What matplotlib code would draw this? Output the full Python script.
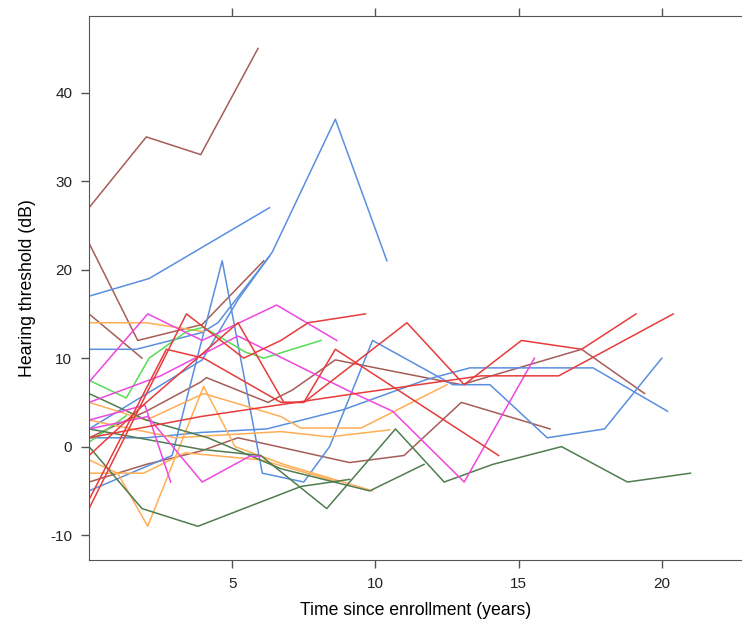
import matplotlib
matplotlib.use("Agg")
import matplotlib.pyplot as plt

plt.rcParams['font.family'] = ['Liberation Sans', 'DejaVu Sans']
plt.rcParams['axes.unicode_minus'] = False

# colours by group
brown = '#a65d58'
blue = '#5a8fe0'
red = '#e83b3b'
magenta = '#ee47e0'
green = '#55dd55'
darkgreen = '#4f7d4f'
orange = '#ffae55'

# (years, dB) per subject
b1_x = [0, 2, 3.9, 5.9];  b1_y = [27, 35, 33, 45]
b2_x = [0, 1.7, 3.95, 6.1];  b2_y = [23, 12, 13.8, 21]
b3_x = [0, 1.85];  b3_y = [15, 10]
b4_x = [0, 2, 3.9, 4.1, 6.25, 7.1, 8.6, 13.0, 17.2, 19.4]
b4_y = [1, 4, 7.3, 7.8, 5, 6.4, 9.8, 7, 11, 6]
b5_x = [0, 2, 3.9, 5.2, 9.1, 11, 13, 16.1]
b5_y = [-4, -2, -0.5, 1, -1.8, -1, 5, 2]

bl1_x = [0, 2.1, 6.3];  bl1_y = [17, 19, 27]
bl2_x = [0, 3.95, 5.2, 6.4, 8.6, 10.4];  bl2_y = [2, 9.8, 16.6, 22, 37, 21]
bl3_x = [0, 2.9, 4.65, 6.05, 7.5, 8.4, 9.9, 12.7, 14, 16, 18, 20]
bl3_y = [-5, -1, 21, -3, -4, 0, 12, 7, 7, 1, 2, 10]
bl4_x = [0, 2, 3.9, 6.2, 8.9, 11.8, 13.3, 17.6, 20.2]
bl4_y = [1, 1, 1.6, 2, 4.2, 7.6, 8.9, 8.9, 4]
bl5_x = [0, 1.65, 3.95, 4.5, 6.3];  bl5_y = [11, 11, 12.9, 14, 21.5]

r1_x = [0, 3.4, 5.4, 6.7, 7.65, 9.65];  r1_y = [-7, 15, 10, 12, 14, 15]
r2_x = [0, 2.7, 4.0, 6.7, 7.5, 8.6, 14.3];  r2_y = [-6, 11, 10, 5, 5, 11, -1]
r3_x = [0, 2, 5.2, 6.8, 7.5, 11.1, 13.1, 15.1, 17.2, 19.1]
r3_y = [-1, 5, 14, 5, 5, 14, 7, 12, 11, 15]
r4_x = [0, 3.9, 9.1, 13.7, 16.4, 20.4];  r4_y = [1, 3.4, 5.9, 8, 8, 15]

m1_x = [0, 2.05, 3.95, 6.55, 8.65];  m1_y = [7.3, 15, 12, 16, 12]
m2_x = [0, 2.5, 5.2, 9, 10.6, 13.1, 15.55];  m2_y = [5, 8, 12.5, 6.4, 4, -4, 10]
m3_x = [0, 2.05, 3.95, 5.6, 6.0];  m3_y = [2, 3.4, -4, -1.1, -1.1]
m4_x = [0, 1.95, 2.85];  m4_y = [3, 4.7, -4]

g1_x = [0, 1.3, 2.1, 3.4, 4.0, 5.45, 6.1, 8.1]
g1_y = [7.5, 5.5, 10, 13, 13.5, 10.7, 10, 12]
g2_x = [0, 1.3];  g2_y = [0.5, 3.5]

dg1_x = [0, 1.85, 3.8, 7.4, 9.1];  dg1_y = [0, -7, -9, -4.5, -3.7]
dg2_x = [0, 3.9, 6.0, 6.3, 8.3, 10.7, 12.4, 14.1, 16.5, 18.8, 21]
dg2_y = [2, -0.3, -1, -1.8, -7, 2, -4, -2, 0, -4, -3]
dg3_x = [0, 2, 4.15, 6.7, 9.8, 11.7];  dg3_y = [6, 3, 1, -2.5, -5, -2]

o1_x = [0, 2, 4];  o1_y = [14, 14, 13]
o2_x = [0, 1, 2.05, 4, 5.1, 6.8, 9.9];  o2_y = [-1.5, -3, -9, 6.8, 0, -2, -5]
o3_x = [0, 1.9, 3.35, 6, 8.7];  o3_y = [-3, -3, -0.7, -1.5, -4]
o4_x = [0, 2, 4, 6.7, 7.4, 9.5, 12.5];  o4_y = [5, 3, 6, 3.4, 2.1, 2.1, 7]
o5_x = [0, 3, 6.7, 8.4, 10.5];  o5_y = [3, 1, 1.7, 1.1, 1.9]

series = [
    (b1_x, b1_y, brown), (b2_x, b2_y, brown), (b3_x, b3_y, brown),
    (b4_x, b4_y, brown), (b5_x, b5_y, brown),
    (bl1_x, bl1_y, blue), (bl2_x, bl2_y, blue), (bl3_x, bl3_y, blue),
    (bl4_x, bl4_y, blue), (bl5_x, bl5_y, blue),
    (o1_x, o1_y, orange), (o2_x, o2_y, orange), (o3_x, o3_y, orange),
    (o4_x, o4_y, orange), (o5_x, o5_y, orange),
    (g1_x, g1_y, green), (g2_x, g2_y, green),
    (dg1_x, dg1_y, darkgreen), (dg2_x, dg2_y, darkgreen), (dg3_x, dg3_y, darkgreen),
    (m1_x, m1_y, magenta), (m2_x, m2_y, magenta), (m3_x, m3_y, magenta),
    (m4_x, m4_y, magenta),
    (r1_x, r1_y, red), (r2_x, r2_y, red), (r3_x, r3_y, red), (r4_x, r4_y, red),
]

fig = plt.figure(figsize=(7.42, 6.27), dpi=100)
ax = fig.add_axes([0.12, 0.107, 0.88, 0.868])

for x, y, c in series:
    ax.plot(x, y, color=c, lw=1.1)

ax.set_xlim(0, 22.8)
ax.set_ylim(-12.8, 48.7)
ax.set_xticks([5, 10, 15, 20])
ax.set_yticks([-10, 0, 10, 20, 30, 40])
ax.tick_params(axis='both', direction='out', length=6, width=1, color='#555555',
               labelsize=11, labelcolor='#222222', pad=6)
ax.tick_params(axis='x', top=True)
for s in ['left', 'bottom', 'top']:
    ax.spines[s].set_color('#555555')
ax.spines['right'].set_visible(False)

ax.set_xlabel('Time since enrollment (years)', fontsize=12.7, labelpad=8)
ax.set_ylabel('Hearing threshold (dB)', fontsize=12.7, labelpad=10)

fig.savefig('out.png', dpi=100)
